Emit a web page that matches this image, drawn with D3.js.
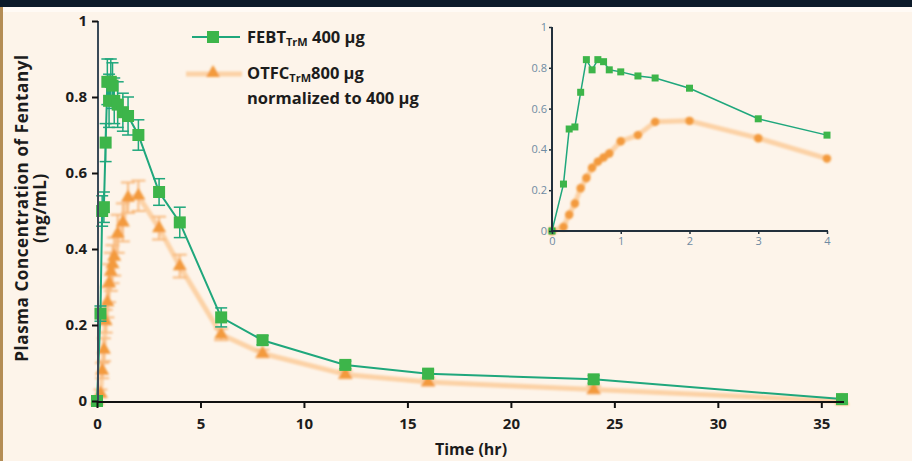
<!DOCTYPE html>
<html>
<head>
<meta charset="utf-8">
<script src="https://cdn.jsdelivr.net/npm/d3@7/dist/d3.min.js"></script>
<style>
  html, body { margin: 0; padding: 0; background: #fdf4ea; }
  svg { display: block; }
  text { font-family: "Open Sans", "DejaVu Sans", sans-serif; }
</style>
</head>
<body>
<svg id="chart" width="912" height="461"></svg>
<script>
// Sampling times (hr)
const times    = [0, 0.167, 0.25, 0.333, 0.417, 0.5, 0.583, 0.667, 0.75, 0.833, 1, 1.25, 1.5, 2, 3, 4, 6, 8, 12, 16, 24, 36];
// FEBT 400 µg mean plasma concentration (ng/mL) and error
const febt     = [0, 0.23, 0.50, 0.51, 0.68, 0.84, 0.79, 0.84, 0.83, 0.79, 0.78, 0.76, 0.75, 0.70, 0.55, 0.47, 0.22, 0.16, 0.095, 0.072, 0.057, 0.005];
const febtErr  = [0, 0.02, 0.04, 0.04, 0.05, 0.06, 0.07, 0.06, 0.06, 0.06, 0.06, 0.05, 0.05, 0.04, 0.035, 0.04, 0.025, 0.012, 0.01, 0.01, 0.01, 0.005];
// OTFC 800 µg normalized to 400 µg
const otfc     = [0, 0.02, 0.08, 0.135, 0.21, 0.26, 0.31, 0.34, 0.36, 0.38, 0.44, 0.47, 0.535, 0.54, 0.455, 0.355, 0.175, 0.125, 0.07, 0.05, 0.03, 0.0];
const otfcErr  = [0, 0.01, 0.02, 0.03, 0.03, 0.04, 0.05, 0.05, 0.05, 0.05, 0.05, 0.05, 0.04, 0.04, 0.03, 0.03, 0.015, 0.01, 0.01, 0.01, 0.01, 0.0];

const yTicks      = [0, 0.2, 0.4, 0.6, 0.8, 1];
const xTicks      = [0, 5, 10, 15, 20, 25, 30, 35];
const insetXTicks = [0, 1, 2, 3, 4];
const insetYTicks = [0, 0.2, 0.4, 0.6, 0.8, 1];

const GREEN_LINE = "#1fa77c";
const GREEN_MARK = "#3db54a";
const ORANGE_LINE = "#fcd2a6";
const ORANGE_MARK = "#f39a3c";
const AXIS = "#22303c";
const INK = "#1c1c1c";

const svg = d3.select("#chart");

const defs = svg.append("defs");
defs.append("filter").attr("id", "soft").attr("x", "-20%").attr("y", "-20%").attr("width", "140%").attr("height", "140%")
  .append("feGaussianBlur").attr("stdDeviation", 1.1);

// page frame
svg.append("rect").attr("x", 0).attr("y", 0).attr("width", 912).attr("height", 461).attr("fill", "#fdf4ea");
svg.append("rect").attr("x", 0).attr("y", 7).attr("width", 912).attr("height", 5).attr("fill", "#fffaf5");
svg.append("rect").attr("x", 0).attr("y", 0).attr("width", 912).attr("height", 7).attr("fill", "#0c1a29");
svg.append("rect").attr("x", 0).attr("y", 7).attr("width", 3).attr("height", 454).attr("fill", "#b48d55");

const rows = times.map((t, i) => ({ t, g: febt[i], ge: febtErr[i], o: otfc[i], oe: otfcErr[i] }));

// ---------- main chart ----------
const x = d3.scaleLinear().domain([0, 36]).range([97, 842]);
const y = d3.scaleLinear().domain([0, 1]).range([401, 21]);

const main = svg.append("g");

// orange series (soft, faded)
const oG = main.append("g").attr("filter", "url(#soft)");
oG.append("path").datum(rows)
  .attr("fill", "none").attr("stroke", ORANGE_LINE).attr("stroke-width", 5).attr("stroke-linejoin", "round")
  .attr("d", d3.line().x(d => x(d.t)).y(d => y(d.o)));
const oErr = oG.selectAll(".oerr").data(rows.filter(d => d.oe > 0)).join("g");
oErr.append("line").attr("x1", d => x(d.t)).attr("x2", d => x(d.t))
  .attr("y1", d => y(d.o - d.oe)).attr("y2", d => y(d.o + d.oe))
  .attr("stroke", "#f8bb80").attr("stroke-width", 2);
[-1, 1].forEach(s => {
  oErr.append("line").attr("x1", d => x(d.t) - 7).attr("x2", d => x(d.t) + 7)
    .attr("y1", d => y(d.o + s * d.oe)).attr("y2", d => y(d.o + s * d.oe))
    .attr("stroke", "#f8bb80").attr("stroke-width", 2);
});
oG.selectAll(".otri").data(rows).join("path")
  .attr("transform", d => `translate(${x(d.t)},${y(d.o)})`)
  .attr("d", d3.symbol(d3.symbolTriangle, 85))
  .attr("fill", ORANGE_MARK);

// green series
const gG = main.append("g");
gG.append("path").datum(rows)
  .attr("fill", "none").attr("stroke", GREEN_LINE).attr("stroke-width", 2)
  .attr("d", d3.line().x(d => x(d.t)).y(d => y(d.g)));
const gErr = gG.selectAll(".gerr").data(rows.filter(d => d.ge > 0.008)).join("g");
gErr.append("line").attr("x1", d => x(d.t)).attr("x2", d => x(d.t))
  .attr("y1", d => y(d.g - d.ge)).attr("y2", d => y(d.g + d.ge))
  .attr("stroke", GREEN_LINE).attr("stroke-width", 1.5);
[-1, 1].forEach(s => {
  gErr.append("line").attr("x1", d => x(d.t) - 6).attr("x2", d => x(d.t) + 6)
    .attr("y1", d => y(d.g + s * d.ge)).attr("y2", d => y(d.g + s * d.ge))
    .attr("stroke", GREEN_LINE).attr("stroke-width", 1.5);
});
gG.selectAll(".gsq").data(rows).join("rect")
  .attr("x", d => x(d.t) - 6).attr("y", d => y(d.g) - 6)
  .attr("width", 12).attr("height", 12)
  .attr("fill", GREEN_MARK);

// axes
const yAxis = main.append("g").attr("transform", "translate(98,0)")
  .call(d3.axisLeft(y).tickValues(yTicks).tickSize(6).tickPadding(5).tickFormat(d => String(d)));
yAxis.select(".domain").attr("stroke", "#3b4a58").attr("stroke-width", 2).attr("d", "M0,21V402");
yAxis.selectAll(".tick line").attr("stroke", "#111").attr("stroke-width", 2);
yAxis.selectAll(".tick text").attr("font-size", 15).attr("font-weight", 700).attr("fill", INK)
  .attr("font-family", "'Open Sans', sans-serif");

const xAxis = main.append("g").attr("transform", "translate(0,402)")
  .call(d3.axisBottom(x).tickValues(xTicks).tickSize(6).tickPadding(10).tickFormat(d => String(d)));
xAxis.select(".domain").attr("stroke", "#111").attr("stroke-width", 2).attr("d", "M97,0H844");
xAxis.selectAll(".tick line").attr("stroke", "#111").attr("stroke-width", 2);
xAxis.selectAll(".tick text").attr("font-size", 15).attr("font-weight", 700).attr("fill", INK)
  .attr("font-family", "'Open Sans', sans-serif");

// axis titles
main.append("text").attr("x", 471).attr("y", 455).attr("text-anchor", "middle")
  .attr("font-size", 16).attr("font-weight", 700).attr("fill", INK).text("Time (hr)");
const yt = main.append("text").attr("transform", "translate(28,208) rotate(-90)")
  .attr("text-anchor", "middle").attr("font-size", 17).attr("font-weight", 700).attr("fill", INK)
  .attr("letter-spacing", 0.6);
yt.append("tspan").attr("x", 0).attr("dy", 0).text("Plasma Concentration of Fentanyl");
yt.append("tspan").attr("x", 0).attr("dy", 18).text("(ng/mL)");

// legend
const lg = svg.append("g");
lg.append("line").attr("x1", 192).attr("x2", 240).attr("y1", 37).attr("y2", 37)
  .attr("stroke", GREEN_LINE).attr("stroke-width", 2);
lg.append("rect").attr("x", 207).attr("y", 31).attr("width", 12).attr("height", 12).attr("fill", GREEN_MARK);
const l1 = lg.append("text").attr("x", 247).attr("y", 43).attr("font-size", 16.5).attr("font-weight", 700).attr("fill", INK);
l1.append("tspan").text("FEBT");
l1.append("tspan").attr("dy", 3).attr("font-size", 11).text("TrM");
l1.append("tspan").attr("dy", -3).text(" 400 µg");

const lo = lg.append("g").attr("filter", "url(#soft)");
lo.append("line").attr("x1", 186).attr("x2", 242).attr("y1", 74).attr("y2", 74)
  .attr("stroke", ORANGE_LINE).attr("stroke-width", 5);
lo.append("path").attr("transform", "translate(213,73)").attr("d", d3.symbol(d3.symbolTriangle, 85)).attr("fill", ORANGE_MARK);
const l2 = lg.append("text").attr("x", 247).attr("y", 79).attr("font-size", 16.5).attr("font-weight", 700).attr("fill", INK);
l2.append("tspan").text("OTFC");
l2.append("tspan").attr("dy", 3).attr("font-size", 11).text("TrM");
l2.append("tspan").attr("dy", -3).text("800 µg");
lg.append("text").attr("x", 247).attr("y", 104).attr("font-size", 16.5).attr("font-weight", 700).attr("fill", INK)
  .text("normalized to 400 µg");

// ---------- inset (first 4 hours) ----------
const xi = d3.scaleLinear().domain([0, 4]).range([552, 827]);
const yi = d3.scaleLinear().domain([0, 1]).range([231, 27]);
const early = rows.filter(d => d.t <= 4);
const inset = svg.append("g");

inset.append("path").datum(early).attr("filter", "url(#soft)")
  .attr("fill", "none").attr("stroke", ORANGE_LINE).attr("stroke-width", 5).attr("stroke-linejoin", "round")
  .attr("d", d3.line().x(d => xi(d.t)).y(d => yi(d.o)));
inset.append("g").attr("filter", "url(#soft)").selectAll("circle").data(early).join("circle")
  .attr("cx", d => xi(d.t)).attr("cy", d => yi(d.o)).attr("r", 4.2).attr("fill", ORANGE_MARK);

inset.append("path").datum(early)
  .attr("fill", "none").attr("stroke", GREEN_LINE).attr("stroke-width", 1.5)
  .attr("d", d3.line().x(d => xi(d.t)).y(d => yi(d.g)));
inset.selectAll(".isq").data(early).join("rect")
  .attr("x", d => xi(d.t) - 3.5).attr("y", d => yi(d.g) - 3.5)
  .attr("width", 7).attr("height", 7).attr("fill", GREEN_MARK);

const iy = inset.append("g").attr("transform", "translate(552,0)")
  .call(d3.axisLeft(yi).tickValues(insetYTicks).tickSize(3).tickPadding(2).tickFormat(d => String(d)));
iy.select(".domain").attr("stroke", AXIS).attr("stroke-width", 2).attr("d", "M0,27V232");
iy.selectAll(".tick line").attr("stroke", AXIS).attr("stroke-width", 1.5);
iy.selectAll(".tick text").attr("font-size", 11).attr("fill", "#6f8ba2").attr("font-family", "'Open Sans', sans-serif");

const ix = inset.append("g").attr("transform", "translate(0,231)")
  .call(d3.axisBottom(xi).tickValues(insetXTicks).tickSize(3).tickPadding(3).tickFormat(d => String(d)));
ix.select(".domain").attr("stroke", AXIS).attr("stroke-width", 2).attr("d", "M551,0H828");
ix.selectAll(".tick line").attr("stroke", AXIS).attr("stroke-width", 1.5);
ix.selectAll(".tick text").attr("font-size", 11).attr("fill", "#6f8ba2").attr("font-family", "'Open Sans', sans-serif");
</script>
</body>
</html>
